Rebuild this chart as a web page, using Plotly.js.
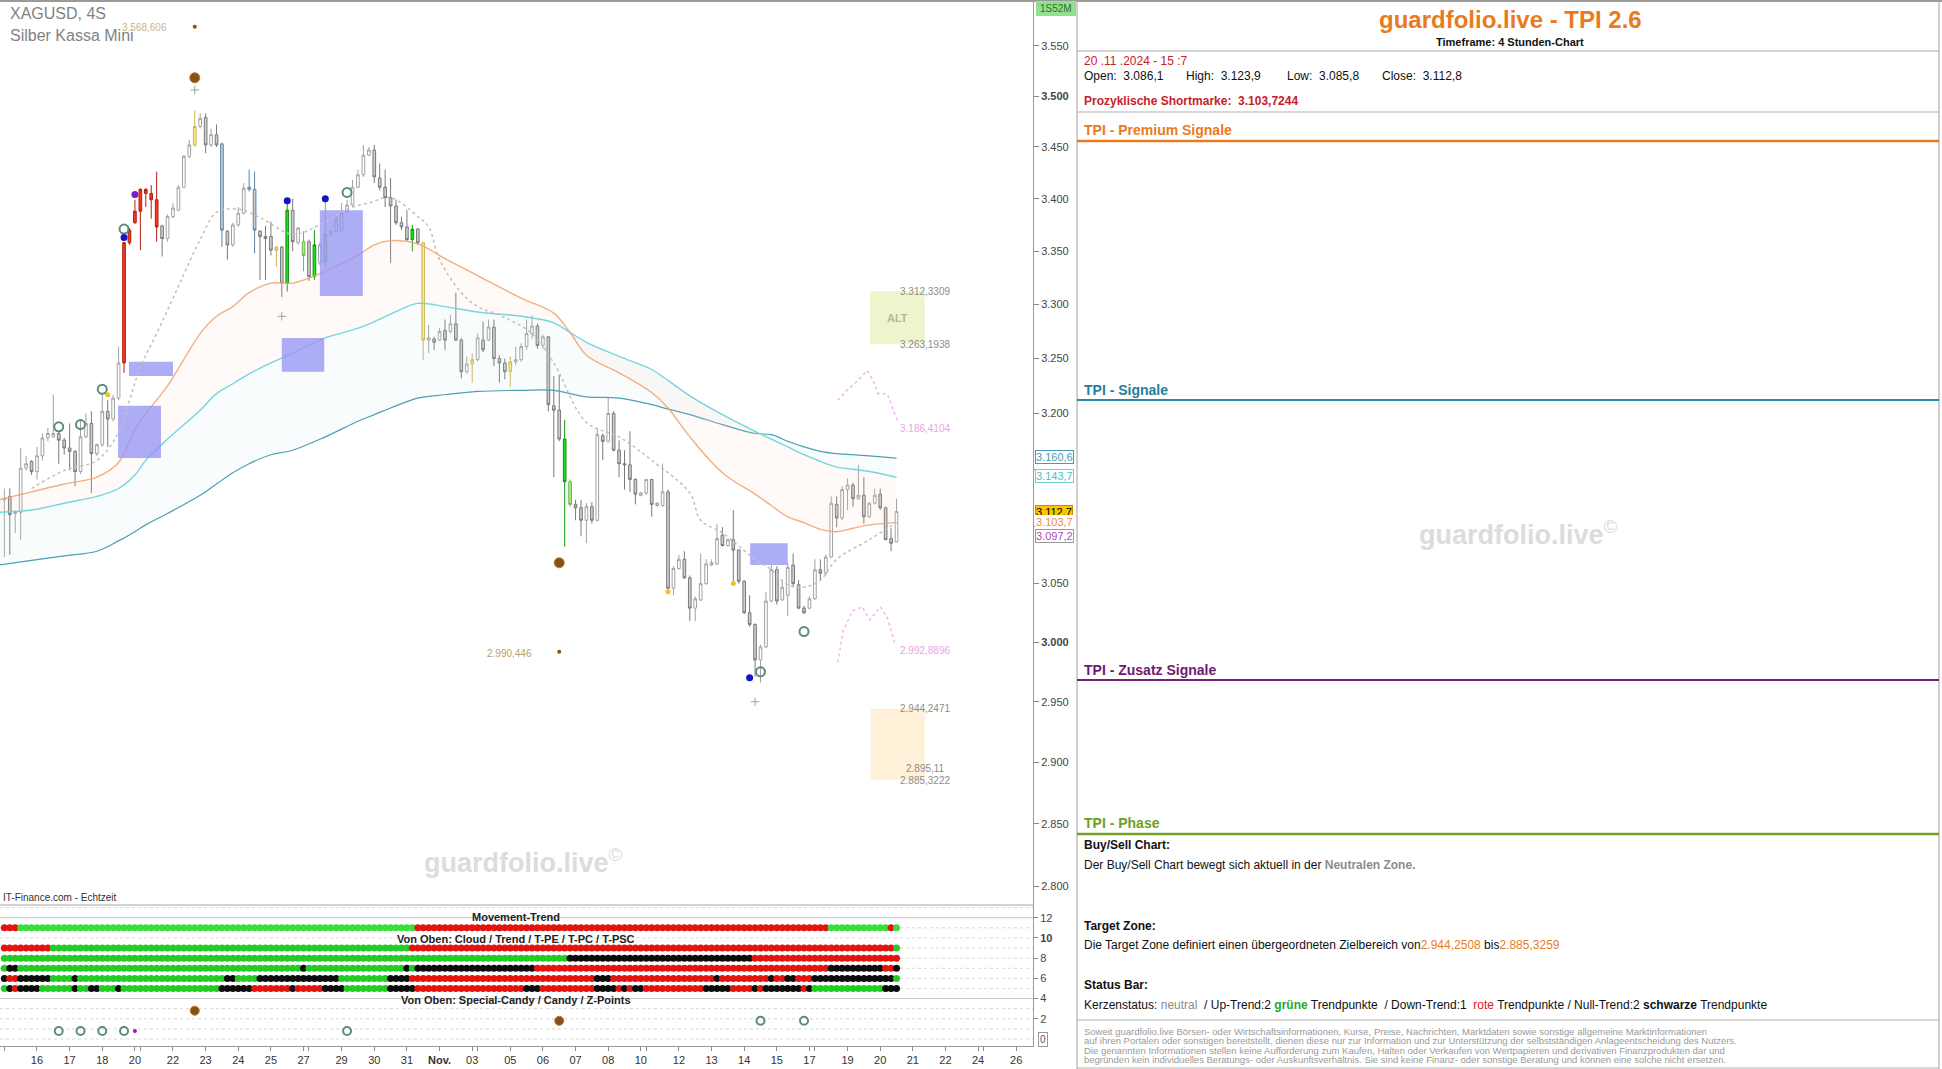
<!DOCTYPE html>
<html>
<head>
<meta charset="utf-8">
<script src="https://cdn.plot.ly/plotly-3.0.1.min.js"></script>
<style>
html,body{margin:0;padding:0;background:#ffffff;overflow:hidden;}
#chart{width:1942px;height:1069px;}
</style>
</head>
<body>
<div id="chart"></div>
<script>
// ================= DATA =================
const firstCandle = -6; // candle index of first bar (Oct 15, 4h bars; index 0 = Oct 16 00:00)
const opens = [3123,3126,3111,3112,3151,3157,3148,3162,3178,3179,
 3182,3176,3169,3166,3148,3179,3191,3164,3172,3202,
 3195,3214,3246,3358,3377,3388,3405,3405,3399,3374,
 3362,3383,3389,3411,3441,3452,3470,3479,3452,3462,
 3453,3369,3356,3375,3386,3409,3409,3369,3364,3364,
 3354,3354,3320,3389,3358,3359,3359,3326,3339,3340,
 3366,3369,3370,3388,3394,3411,3423,3442,3447,3420,
 3411,3401,3393,3377,3373,3361,3371,3358,3267,3268,
 3267,3276,3275,3282,3267,3238,3245,3249,3267,3267,
 3279,3250,3246,3238,3247,3249,3261,3273,3280,3262,
 3270,3207,3203,3177,3139,3119,3116,3105,3117,3105,
 3180,3175,3200,3167,3155,3154,3141,3127,3129,3141,
 3118,3118,3130,3046,3063,3071,3055,3029,3036,3050,
 3066,3067,3092,3083,3088,3079,3052,3025,3015,2985,
 2996,3035,3062,3036,3040,3066,3049,3029,3029,3037,
 3062,3059,3073,3119,3107,3132,3136,3124,3127,3108,
 3120,3128,3116,3089,3086.1];
const highs = [3133,3133,3114,3169,3162,3158,3170,3182,3187,3217,
 3184,3178,3191,3167,3194,3200,3202,3173,3218,3212,
 3217,3261,3359,3372,3399,3410,3410,3413,3426,3375,
 3385,3396,3413,3442,3457,3486,3483,3483,3468,3472,
 3454,3370,3377,3392,3415,3428,3426,3370,3374,3378,
 3355,3355,3399,3400,3373,3369,3361,3370,3358,3400,
 3370,3383,3396,3399,3418,3428,3452,3450,3452,3434,
 3428,3420,3399,3383,3389,3375,3372,3359,3281,3270,
 3278,3286,3290,3311,3269,3252,3255,3273,3284,3286,
 3286,3253,3250,3252,3261,3264,3286,3290,3282,3272,
 3271,3234,3235,3194,3141,3123,3123,3120,3121,3187,
 3182,3214,3202,3176,3167,3184,3142,3130,3141,3141,
 3121,3155,3132,3065,3075,3078,3057,3039,3076,3071,
 3071,3102,3099,3089,3114,3080,3053,3040,3016,2998,
 3043,3066,3065,3053,3068,3076,3053,3031,3039,3071,
 3071,3075,3126,3126,3135,3142,3138,3154,3143,3121,
 3133,3133,3117,3098,3123.9];
const lows = [3073,3075,3094,3088,3149,3145,3141,3158,3175,3178,
 3155,3163,3149,3135,3146,3178,3129,3162,3170,3170,
 3193,3212,3237,3356,3376,3351,3392,3381,3359,3345,
 3359,3381,3388,3410,3439,3450,3468,3444,3450,3450,
 3354,3342,3354,3373,3385,3407,3348,3323,3323,3346,
 3335,3307,3312,3350,3356,3331,3322,3323,3337,3335,
 3364,3368,3369,3386,3392,3410,3421,3441,3415,3408,
 3392,3339,3375,3370,3359,3350,3356,3249,3255,3258,
 3266,3258,3273,3266,3232,3236,3228,3247,3256,3266,
 3243,3228,3231,3224,3244,3247,3258,3268,3259,3259,
 3202,3143,3175,3082,3117,3105,3091,3085,3102,3104,
 3158,3174,3166,3143,3132,3130,3119,3126,3127,3108,
 3117,3117,3045,3040,3062,3054,3018,3018,3035,3049,
 3065,3066,3082,3082,3052,3050,3024,3013,2971,2966,
 2995,3034,3032,3035,3022,3047,3028,3024,3028,3036,
 3053,3057,3072,3099,3105,3114,3117,3123,3102,3107,
 3119,3114,3088,3078,3085.8];
const closes = [3124,3110,3112,3151,3155,3148,3162,3178,3182,3182,
 3176,3169,3166,3148,3179,3191,3164,3172,3202,3195,
 3214,3246,3358,3370,3388,3409,3409,3399,3373,3362,
 3383,3391,3411,3441,3452,3470,3478,3452,3462,3452,
 3370,3356,3375,3386,3410,3411,3370,3364,3362,3351,
 3351,3320,3389,3359,3372,3346,3326,3356,3356,3366,
 3369,3380,3386,3394,3411,3423,3442,3447,3421,3411,
 3401,3393,3377,3373,3361,3371,3358,3267,3269,3265,
 3275,3267,3282,3267,3238,3245,3249,3269,3258,3279,
 3250,3246,3238,3247,3249,3261,3273,3280,3262,3270,
 3208,3203,3177,3139,3119,3116,3105,3117,3105,3181,
 3175,3200,3167,3155,3154,3141,3128,3129,3141,3119,
 3120,3130,3046,3063,3071,3055,3029,3037,3050,3067,
 3068,3089,3083,3088,3079,3052,3025,3015,2985,2996,
 3035,3062,3035,3047,3064,3050,3029,3025,3037,3062,
 3059,3073,3120,3107,3132,3136,3124,3127,3108,3120,
 3127,3116,3088,3085,3112.8];

// special candle colourings (candle indices)
const redCandles = [16,17,18,19,20,21,22];
const yellowCandles = [29,44,71,80,87];
const greenCandles = [46,51,69,97];
const lightGreenCandles = [49,53,98];
const blueEdgeCandles = [34,39,40];

// x axis: trading-day starts and labels
const dayStarts = [-6,0,6,12,18,19,25,31,37,43,49,50,56,62,68,74,80,81,87,93,99,105,111,112,118,124,130,136,142,143,149,155,161,167,173,174,180];
const dayLabels = ['','16','17','18','20','','22','23','24','25','27','','29','30','31','<b>Nov.</b>','03','','05','06','07','08','10','','12','13','14','15','17','','19','20','21','22','24','','26'];

const priceTicks = [2800,2850,2900,2950,3000,3050,3100,3150,3200,3250,3300,3350,3400,3450,3500,3550];
const priceTickLabels = ['2.800','2.850','2.900','2.950','<b>3.000</b>','3.050','','','3.200','3.250','3.300','3.350','3.400','3.450','<b>3.500</b>','3.550'];

// moving averages (cloud)
const maX = [-7,-1,5,11,15,18,20,24,30,33,36,39,43,47,53,59,62,65,70,75,81,89,95,98,101,107,113,116,120,126,132,135,138,141,144,147,150,153,158];
const emaOrange = [3123,3130,3137,3143,3156,3186,3200,3225,3273,3289,3298,3311,3320,3320,3331,3346,3356,3360,3357,3343,3327,3306,3292,3274,3253,3237,3219,3205,3179,3147,3128,3118,3108,3103,3097,3095,3098,3101,3103];
const emaCyan = [3112,3114,3120,3126,3133,3145,3158,3177,3203,3218,3227,3236,3246,3255,3269,3278,3284,3291,3301,3298,3293,3289,3283,3274,3265,3252,3240,3230,3216,3199,3184,3177,3170,3163,3157,3152,3150,3148,3143];
const emaTeal = [3066,3070,3074,3078,3087,3095,3101,3111,3127,3137,3147,3155,3163,3167,3179,3193,3199,3205,3214,3217,3220,3221,3221,3218,3215,3214,3208,3204,3199,3190,3182,3181,3175,3170,3166,3164,3163,3162,3160];
const smaX = [-1,5,11,15,17,19,22,26,30,33,37,41,47,52,57,61,65,70,72,74,78,81,85,91,95,101,107,113,120,122,126,132,135,138,141,144,147,153,158];
const smaGrey = [3133,3149,3158,3183,3212,3242,3273,3317,3361,3387,3390,3382,3366,3375,3390,3396,3401,3383,3373,3342,3311,3298,3290,3273,3246,3192,3179,3158,3129,3105,3094,3071,3062,3049,3047,3053,3071,3088,3103];
const projUpX = [147.2,148.9,150.9,152.6,153.7,154.6,156.3,158.1];
const projUp = [3212,3221,3230,3239,3230,3218,3218,3194];
const projDnX = [147.2,148.2,150,151.7,153.1,155,156.3,157.7];
const projDn = [2983,3010,3027,3030,3019,3030,3021,2999];

// signal markers on the price chart
const blueDotX = [16,46,53,131], blueDotY = [3363,3398,3400,2970];
const purpleDotX = [18], purpleDotY = [3404];
const ringX = [4,8,12,16,57,133,141], ringY = [3188,3190,3222,3371,3406,2975,3009];
const yellowDotX = [13,116,128], yellowDotY = [3217,3043,3050];
const brownBigX = [29,96], brownBigY = [3518,3068];
const brownSmallX = [29,96], brownSmallY = [3569,2992];
const plusX = [29,45,132], plusY = [3506,3289,2950];

// signal zones [x0, x1, low, high]
const signalZones = [[14.9,22.8,3160,3207],[16.9,25,3234,3247],[45,52.8,3238,3269],[52,59.9,3308,3389],[131.1,138,3066,3085]];
const altZone = [153.1,163.2,3263.1938,3312.3309];
const targetZone = [153.3,163.2,2885.3222,2944.2471];
const levelLabels = [
  {v:3312.3309,t:'3.312,3309',c:'#8c8c8c',x:158.2},
  {v:3263.1938,t:'3.263,1938',c:'#8c8c8c',x:158.2},
  {v:3186.4104,t:'3.186,4104',c:'#eaa4e2',x:158.2},
  {v:2992.8896,t:'2.992,8896',c:'#eaa4e2',x:158.2},
  {v:2944.2471,t:'2.944,2471',c:'#8c8c8c',x:158.2},
  {v:2895.11,t:'2.895,11',c:'#8c8c8c',x:159.3},
  {v:2885.3222,t:'2.885,3222',c:'#8c8c8c',x:158.2}];
const axisLabels = [
  {v:3160.6,t:'3.160,6',c:'#3f9db5',bg:'#ffffff',b:'#3f9db5'},
  {v:3143.7,t:'3.143,7',c:'#45c2cc',bg:'#ffffff',b:'#6fd0d8'},
  {v:3112.7,t:'3.112,7',c:'#000000',bg:'#f7c600',b:'#c09000'},
  {v:3103.2,t:'3.103,7',c:'#f08a4a',bg:'#ffffff',b:'#ffffff'},
  {v:3091.5,t:'3.097,2',c:'#b048c0',bg:'#ffffff',b:'#999999'}];

// status rows (bottom panel): [colour, fromIdx, toIdx]
const rowMovement = [['r',-6,-4],['g',-3,69],['r',70,145],['g',146,156],['r',157,157],['g',158,158]];
const rowCloud = [['r',-6,2],['g',3,68],['r',69,157],['g',158,158]];
const rowTrend = [['g',-6,97],['k',98,131],['r',132,158]];
const rowTPE = [['g',-6,-6],['k',-5,-4],['g',-3,48],['k',49,49],['g',50,67],['k',68,68],['g',69,69],['k',70,91],['r',92,145],['k',146,155],['r',156,157],['k',158,158]];
const rowTPC = [['k',-6,-6],['r',-5,-4],['k',-3,2],['g',3,6],['k',7,7],['g',8,34],['k',35,36],['g',37,40],['k',41,55],['g',56,64],['k',65,68],['r',69,102],['k',103,105],['r',106,124],['k',125,125],['r',126,134],['k',135,135],['r',136,137],['k',138,139],['r',140,142],['k',143,157],['g',158,158]];
const rowTPSC = [['g',-6,-6],['k',-5,-5],['r',-4,-4],['k',-3,0],['g',1,6],['k',7,7],['g',8,9],['k',10,11],['g',12,14],['k',15,15],['g',16,33],['k',34,39],['r',40,46],['k',47,47],['r',48,52],['k',53,56],['g',57,64],['k',65,69],['r',70,89],['k',90,92],['r',93,102],['k',103,106],['r',107,107],['k',108,108],['r',109,109],['k',110,111],['r',112,122],['k',123,127],['r',128,131],['k',132,132],['r',133,133],['k',134,140],['r',141,141],['k',142,142],['g',143,155],['k',156,158]];
const statusRows = [{y:11,runs:rowMovement,g:'#36e036'},{y:9,runs:rowCloud,g:'#22cc22'},{y:8,runs:rowTrend,g:'#22cc22'},{y:7,runs:rowTPE,g:'#22cc22'},{y:6,runs:rowTPC,g:'#22cc22'},{y:5,runs:rowTPSC,g:'#22cc22'}];
const candyBrownX = [29,96], candyBrownY = [2.8,1.8];
const zRingX = [4,8,12,16,57,133,141], zRingY = [0.8,0.8,0.8,0.8,0.8,1.8,1.8];
const zPurpleX = [18], zPurpleY = [0.8];

// ================= BUILD =================
const W = 1942, H = 1069;
const FONT = 'Liberation Sans, Arial, Helvetica, sans-serif';
const ly = v => Math.log10(v);
const idx = opens.map((_, k) => firstCandle + k);

function styleOf(i){
  if (redCandles.includes(i)) return 'r';
  if (yellowCandles.includes(i)) return 'y';
  if (greenCandles.includes(i)) return 'g';
  if (lightGreenCandles.includes(i)) return 'l';
  if (blueEdgeCandles.includes(i)) return 'b';
  return 'n';
}
const groupStyle = {
  n:{incF:'#ffffff',incL:'#a2a2a2',decF:'#cdcdcd',decL:'#7a7a7a'},
  b:{incF:'#ffffff',incL:'#5a85aa',decF:'#cdcdcd',decL:'#5a85aa'},
  r:{incF:'#f23a22',incL:'#b81c10',decF:'#f23a22',decL:'#b81c10'},
  y:{incF:'#f9ea8c',incL:'#cdb64c',decF:'#f9ea8c',decL:'#cdb64c'},
  g:{incF:'#1fdc1f',incL:'#129612',decF:'#1fdc1f',decL:'#129612'},
  l:{incF:'#a6f07e',incL:'#6cb84a',decF:'#a6f07e',decL:'#6cb84a'}
};

const traces = [];
function zoneTrace(z, color){
  return {type:'scatter',mode:'lines',x:[z[0],z[1],z[1],z[0],z[0]],y:[z[2],z[2],z[3],z[3],z[2]],
    fill:'toself',fillcolor:color,line:{width:0,color:'rgba(0,0,0,0)'},hoverinfo:'skip',xaxis:'x',yaxis:'y'};
}
traces.push(zoneTrace(altZone,'rgba(236,244,200,0.9)'));
traces.push(zoneTrace(targetZone,'rgba(255,240,212,0.9)'));
// cloud / moving averages
traces.push({type:'scatter',mode:'lines',x:maX,y:emaTeal,line:{color:'#4d9fb6',width:1.2,shape:'spline'},hoverinfo:'skip',xaxis:'x',yaxis:'y'});
traces.push({type:'scatter',mode:'lines',x:maX,y:emaCyan,line:{color:'#74d6de',width:1.4,shape:'spline'},fill:'tonexty',fillcolor:'rgba(185,228,238,0.10)',hoverinfo:'skip',xaxis:'x',yaxis:'y'});
traces.push({type:'scatter',mode:'lines',x:maX,y:emaOrange,line:{color:'rgba(240,165,120,0.9)',width:1.4,shape:'spline'},fill:'tonexty',fillcolor:'rgba(255,210,190,0.10)',hoverinfo:'skip',xaxis:'x',yaxis:'y'});
// lavender signal zones (drawn over the cloud, under the candles)
signalZones.forEach(z => traces.push(zoneTrace(z,'rgba(150,150,244,0.78)')));
traces.push({type:'scatter',mode:'lines',x:smaX,y:smaGrey,line:{color:'#cbbcbc',width:1.5,dash:'dot',shape:'spline'},hoverinfo:'skip',xaxis:'x',yaxis:'y'});
traces.push({type:'scatter',mode:'lines',x:projUpX,y:projUp,line:{color:'#f1b6ea',width:1.5,dash:'dot'},hoverinfo:'skip',xaxis:'x',yaxis:'y'});
traces.push({type:'scatter',mode:'lines',x:projDnX,y:projDn,line:{color:'#f1b6ea',width:1.5,dash:'dot'},hoverinfo:'skip',xaxis:'x',yaxis:'y'});

// candles grouped by colour style
['n','b','r','y','g','l'].forEach(code => {
  const sel = idx.map((i,k)=>k).filter(k => styleOf(idx[k]) === code);
  if (!sel.length) return;
  const s = groupStyle[code];
  traces.push({
    type:'candlestick', xaxis:'x', yaxis:'y',
    x: sel.map(k=>idx[k]), open: sel.map(k=>opens[k]), high: sel.map(k=>highs[k]),
    low: sel.map(k=>lows[k]), close: sel.map(k=>closes[k]),
    increasing:{fillcolor:s.incF,line:{color:s.incL,width:1}},
    decreasing:{fillcolor:s.decF,line:{color:s.decL,width:1}},
    whiskerwidth:0, hoverinfo:'skip'
  });
});

// signal markers
traces.push({type:'scatter',mode:'markers',x:plusX,y:plusY,marker:{symbol:'cross-thin',size:6,color:'#a0a0a0',line:{color:'#a0a0a0',width:1}},hoverinfo:'skip'});
traces.push({type:'scatter',mode:'markers',x:brownSmallX,y:brownSmallY,marker:{size:4,color:'#8a5212'},hoverinfo:'skip'});
traces.push({type:'scatter',mode:'markers',x:brownBigX,y:brownBigY,marker:{size:10,color:'#8a5212',line:{color:'#b07a40',width:1}},hoverinfo:'skip'});
traces.push({type:'scatter',mode:'markers',x:ringX,y:ringY,marker:{symbol:'circle-open',size:9,color:'#5b8c7e',line:{color:'#5b8c7e',width:2}},hoverinfo:'skip'});
traces.push({type:'scatter',mode:'markers',x:blueDotX,y:blueDotY,marker:{size:7,color:'#1414c8'},hoverinfo:'skip'});
traces.push({type:'scatter',mode:'markers',x:purpleDotX,y:purpleDotY,marker:{size:7,color:'#7422c0'},hoverinfo:'skip'});
traces.push({type:'scatter',mode:'markers',x:yellowDotX,y:yellowDotY,marker:{size:5,color:'#f2c21a'},hoverinfo:'skip'});

// bottom status rows
const colMap = {r:'#e3140e',k:'#0c0c0c'};
statusRows.forEach(row => {
  const xs = [], cs = [];
  row.runs.forEach(([c,a,b]) => { for (let i=a;i<=b;i++){ xs.push(i); cs.push(c==='g'?row.g:colMap[c]); } });
  traces.push({type:'scatter',mode:'markers',x:xs,y:xs.map(()=>row.y),marker:{size:7,color:cs},hoverinfo:'skip',xaxis:'x',yaxis:'y2'});
});
traces.push({type:'scatter',mode:'markers',x:candyBrownX,y:candyBrownY,marker:{size:9,color:'#8a5212',line:{color:'#b07a40',width:1}},hoverinfo:'skip',xaxis:'x',yaxis:'y2'});
traces.push({type:'scatter',mode:'markers',x:zRingX,y:zRingY,marker:{symbol:'circle-open',size:8,color:'#5b8c7e',line:{color:'#5b8c7e',width:2}},hoverinfo:'skip',xaxis:'x',yaxis:'y2'});
traces.push({type:'scatter',mode:'markers',x:zPurpleX,y:zPurpleY,marker:{size:4,color:'#8a1ac8'},hoverinfo:'skip',xaxis:'x',yaxis:'y2'});

// ---------- shapes ----------
const shapes = [];
function PL(x0,y0,x1,y1,color,width,dash){ return {type:'line',xref:'paper',yref:'paper',x0:x0/W,x1:x1/W,y0:1-y0/H,y1:1-y1/H,line:{color:color,width:width,dash:dash||'solid'}}; }
// bottom-panel grid
for (let v=0; v<=13; v++){
  const solid = (v===12 || v===4);
  shapes.push({type:'line',xref:'paper',yref:'y2',x0:0,x1:1033/W,y0:v,y1:v,line:{color:solid?'#c4c4c4':'#d6d6d6',width:1,dash:solid?'solid':'dot'},layer:'below'});
}
// frame lines
shapes.push(PL(0,1,1942,1,'#9a9a9a',2));
shapes.push(PL(0,905,1033,905,'#a8a8a8',1));
shapes.push(PL(1077,0,1077,1069,'#a0a0a0',1));
shapes.push(PL(1939,0,1939,1069,'#a0a0a0',1));
shapes.push(PL(1077,51,1939,51,'#a8a8a8',1));
shapes.push(PL(1077,112,1939,112,'#b0b0b0',1));
shapes.push(PL(1077,1020,1939,1020,'#b0b0b0',1));
shapes.push(PL(1077,1068,1939,1068,'#b0b0b0',1));
shapes.push(PL(1077,141,1939,141,'#ea7a1e',2.5));
shapes.push(PL(1077,400,1939,400,'#2a8aa6',2));
shapes.push(PL(1077,680,1939,680,'#74207a',2));
shapes.push(PL(1077,834,1939,834,'#74a02a',2.5));
shapes.push({type:'rect',xref:'paper',yref:'paper',x0:1036/W,x1:1076/W,y0:1-16/H,y1:1-1/H,fillcolor:'#90e090',line:{width:0}});

// ---------- annotations ----------
const ann = [];
function PT(text,x,y,size,color,opts){ return Object.assign({text:text,xref:'paper',yref:'paper',x:x/W,y:1-y/H,xanchor:'left',yanchor:'middle',showarrow:false,font:{family:FONT,size:size,color:color}},opts||{}); }
// top-left
ann.push(PT('XAGUSD, 4S',8,14,16,'#828282'));
ann.push(PT('Silber Kassa Mini',8,36,16,'#828282'));
ann.push(PT('1S52M',1056,8,10,'#2d6e2d',{xanchor:'center'}));
ann.push(PT('IT-Finance.com - Echtzeit',1,897,10,'#333333'));
// watermarks
ann.push(PT('<b>guardfolio.live</b><sup>©</sup>',523,861,27,'#dcdcdc',{xanchor:'center'}));
ann.push(PT('<b>guardfolio.live</b><sup>©</sup>',1518,533,27,'#dcdcdc',{xanchor:'center'}));
// in-chart level labels
levelLabels.forEach(l => ann.push({text:l.t,xref:'x',yref:'y',x:l.x,y:ly(l.v),xanchor:'left',yanchor:'middle',showarrow:false,font:{family:FONT,size:10,color:l.c}}));
ann.push({text:'3.568,606',xref:'x',yref:'y',x:24.2,y:ly(3568.606),xanchor:'right',yanchor:'middle',showarrow:false,font:{family:FONT,size:10,color:'#c8b48c'}});
ann.push({text:'2.990,446',xref:'x',yref:'y',x:91.4,y:ly(2990.446),xanchor:'right',yanchor:'middle',showarrow:false,font:{family:FONT,size:10,color:'#b8a070'}});
ann.push({text:'<b>ALT</b>',xref:'x',yref:'y',x:(altZone[0]+altZone[1])/2,y:ly(3287),xanchor:'center',yanchor:'middle',showarrow:false,font:{family:FONT,size:11,color:'#b4ba94'}});
// price axis value boxes
axisLabels.forEach(l => ann.push({text:l.t,xref:'paper',yref:'y',x:1035/W,y:ly(l.v),xanchor:'left',yanchor:'middle',showarrow:false,bgcolor:l.bg,bordercolor:l.b,borderwidth:1,borderpad:0,font:{family:FONT,size:11,color:l.c}}));
// bottom panel texts
ann.push({text:'<b>Movement-Trend</b>',xref:'x',yref:'y2',x:88,y:12.05,xanchor:'center',yanchor:'middle',showarrow:false,font:{family:FONT,size:11,color:'#222'}});
ann.push({text:'<b>Von Oben: Cloud / Trend / T-PE / T-PC / T-PSC</b>',xref:'x',yref:'y2',x:88,y:9.9,xanchor:'center',yanchor:'middle',showarrow:false,font:{family:FONT,size:11,color:'#222'}});
ann.push({text:'<b>Von Oben: Special-Candy / Candy / Z-Points</b>',xref:'x',yref:'y2',x:88,y:3.85,xanchor:'center',yanchor:'middle',showarrow:false,font:{family:FONT,size:11,color:'#222'}});
ann.push({text:'0',xref:'paper',yref:'y2',x:1038/W,y:0,xanchor:'left',yanchor:'middle',showarrow:false,bordercolor:'#999',borderwidth:1,borderpad:1,font:{family:FONT,size:10,color:'#555'}});
// right info panel
ann.push(PT('<b>guardfolio.live - TPI 2.6</b>',1510,20,24,'#ea7a1e',{xanchor:'center'}));
ann.push(PT('<b>Timeframe: 4 Stunden-Chart</b>',1510,42,11,'#111111',{xanchor:'center'}));
ann.push(PT('20 .11 .2024 - 15 :7',1082,61,12,'#c8202a'));
ann.push(PT('Open:  3.086,1',1082,76,12,'#111111'));
ann.push(PT('High:  3.123,9',1184,76,12,'#111111'));
ann.push(PT('Low:  3.085,8',1285,76,12,'#111111'));
ann.push(PT('Close:  3.112,8',1380,76,12,'#111111'));
ann.push(PT('<b>Prozyklische Shortmarke:  3.103,7244</b>',1082,101,12,'#c8202a'));
ann.push(PT('<b>TPI - Premium Signale</b>',1082,130,14,'#ea7a1e'));
ann.push(PT('<b>TPI - Signale</b>',1082,390,14,'#1f7f9c'));
ann.push(PT('<b>TPI - Zusatz Signale</b>',1082,670,14,'#6e1a72'));
ann.push(PT('<b>TPI - Phase</b>',1082,823,14,'#6e9e1e'));
ann.push(PT('<b>Buy/Sell Chart:</b>',1082,845,12,'#111111'));
ann.push(PT('Der Buy/Sell Chart bewegt sich aktuell in der <b><span style="color:#8c8c8c">Neutralen Zone.</span></b>',1082,865,12,'#111111'));
ann.push(PT('<b>Target Zone:</b>',1082,926,12,'#111111'));
ann.push(PT('Die Target Zone definiert einen übergeordneten Zielbereich von<span style="color:#ea7a1e">2.944,2508</span> bis<span style="color:#ea7a1e">2.885,3259</span>',1082,945,12,'#111111'));
ann.push(PT('<b>Status Bar:</b>',1082,985,12,'#111111'));
ann.push(PT('Kerzenstatus: <span style="color:#8c8c8c">neutral</span>  / Up-Trend:2 <b><span style="color:#1faa1f">grüne</span></b> Trendpunkte  / Down-Trend:1  <span style="color:#e0141a">rote</span> Trendpunkte / Null-Trend:2 <b>schwarze</b> Trendpunkte',1082,1005,12,'#111111'));
const disclaimer = [
 'Soweit guardfolio.live Börsen- oder Wirtschaftsinformationen, Kurse, Preise, Nachrichten, Marktdaten sowie sonstige allgemeine Marktinformationen',
 'auf ihren Portalen oder sonstigen bereitstellt, dienen diese nur zur Information und zur Unterstützung der selbstständigen Anlageentscheidung des Nutzers.',
 'Die genannten Informationen stellen keine Aufforderung zum Kaufen, Halten oder Verkaufen von Wertpapieren und derivativen Finanzprodukten dar und',
 'begründen kein individuelles Beratungs- oder Auskunftsverhältnis. Sie sind keine Finanz- oder sonstige Beratung und können eine solche nicht ersetzen.'];
disclaimer.forEach((t,k) => ann.push(PT(t,1082,1031+k*9.5,9.5,'#9a9a9a')));

const layout = {
  width:W, height:H, margin:{l:0,r:0,t:0,b:0},
  paper_bgcolor:'#ffffff', plot_bgcolor:'#ffffff',
  showlegend:false, hovermode:false,
  font:{family:FONT,size:11,color:'#333'},
  xaxis:{domain:[0,1033/W], range:[-6.8,183.09], anchor:'y2', rangeslider:{visible:false},
    showgrid:false, zeroline:false, tickmode:'array', tickvals:dayStarts, ticktext:dayLabels, tickangle:0,
    ticks:'outside', ticklen:4, tickcolor:'#888', showline:true, linecolor:'#9a9a9a',
    tickfont:{family:FONT,size:11,color:'#333'}},
  yaxis:{domain:[1-905/H,1-1/H], type:'log', range:[3.444908,3.555712], side:'right', anchor:'x',
    tickmode:'array', tickvals:priceTicks, ticktext:priceTickLabels, ticks:'outside', ticklen:5, tickcolor:'#888',
    showline:true, linecolor:'#9a9a9a', showgrid:false, zeroline:false,
    tickfont:{family:FONT,size:11,color:'#444'}},
  yaxis2:{domain:[1-1046/H,1-905/H], range:[-0.69,13.26], side:'right', anchor:'x',
    tickmode:'array', tickvals:[2,4,6,8,10,12], ticktext:['2','4','6','8','<b>10</b>','12'],
    ticks:'outside', ticklen:4, tickcolor:'#888', showline:true, linecolor:'#9a9a9a', showgrid:false, zeroline:false,
    tickfont:{family:FONT,size:11,color:'#444'}},
  shapes:shapes, annotations:ann
};
Plotly.newPlot('chart', traces, layout, {staticPlot:true, displayModeBar:false});
</script>
</body>
</html>
